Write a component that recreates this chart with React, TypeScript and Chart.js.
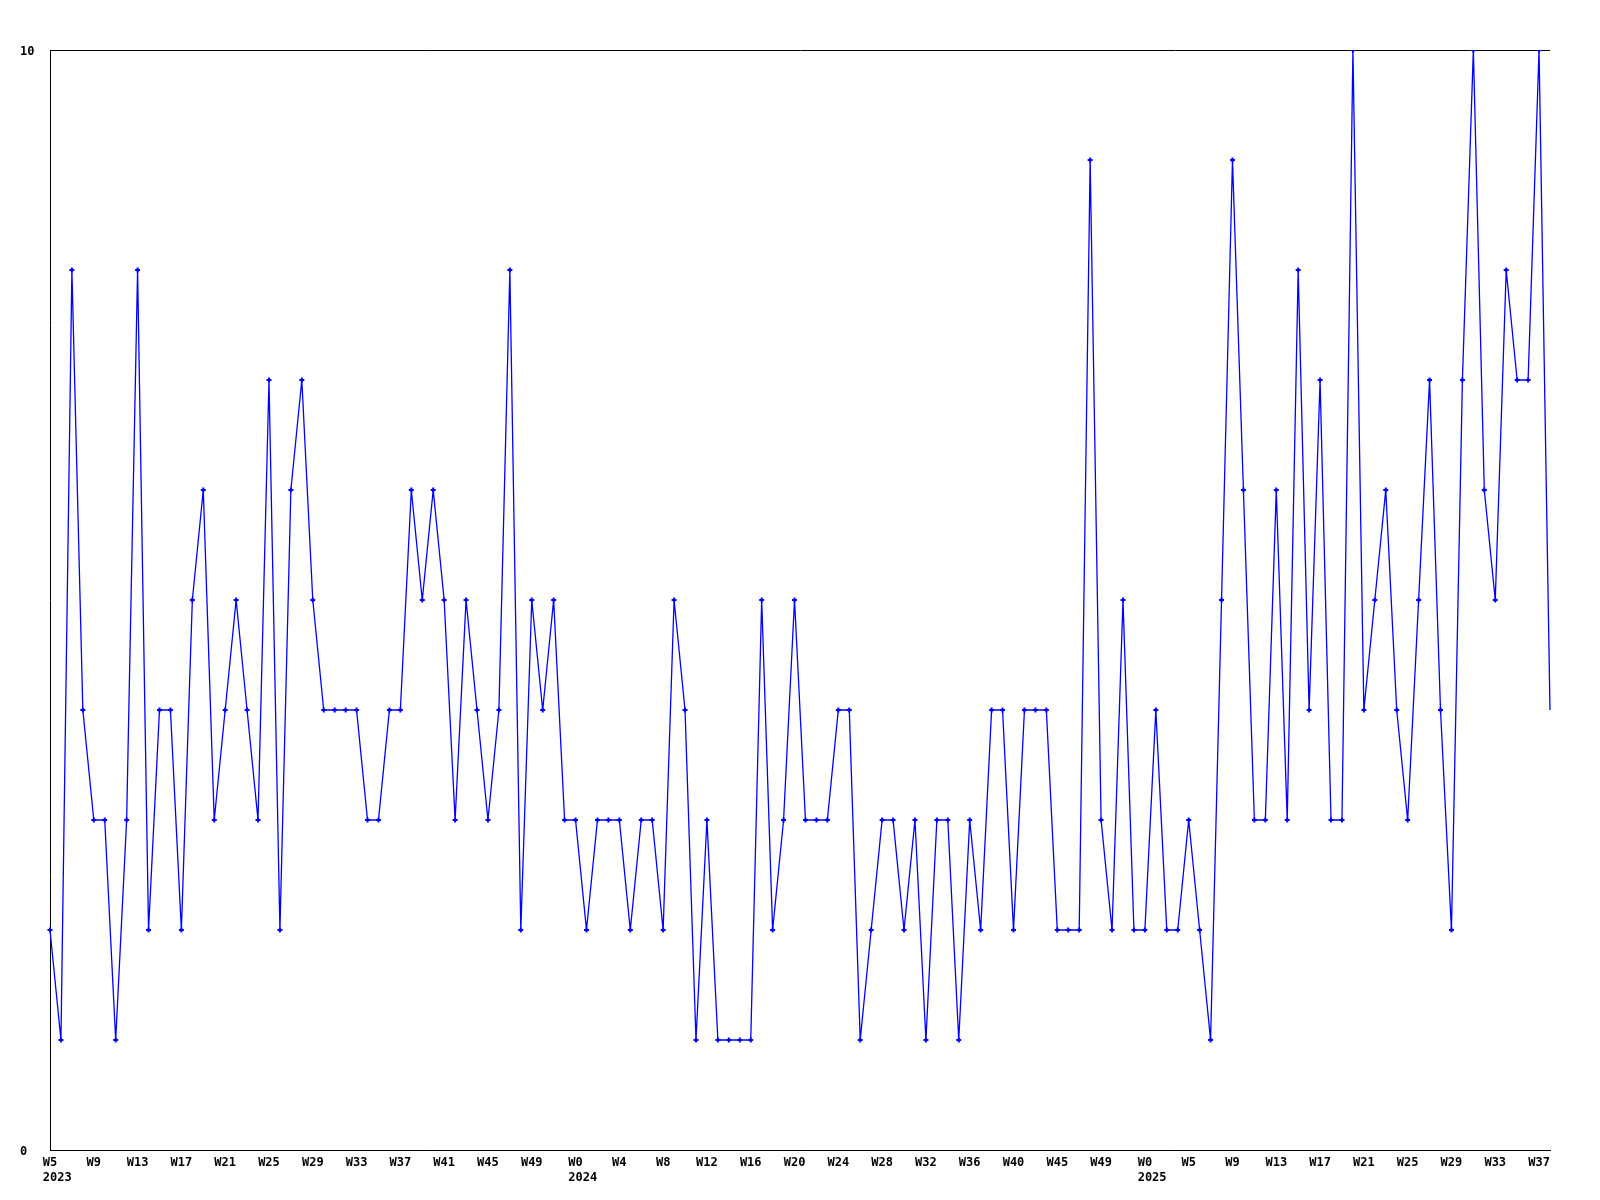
import { useEffect, useRef } from "react";
import { Chart, registerables } from "chart.js";

Chart.register(...registerables);

// Week categories, per year
const weeks2023 = [
  "W5", "W6", "W7", "W8", "W9", "W10", "W11", "W12", "W13", "W14", "W15", "W16",
  "W17", "W18", "W19", "W20", "W21", "W22", "W23", "W24", "W25", "W26", "W27", "W28",
  "W29", "W30", "W31", "W32", "W33", "W34", "W35", "W36", "W37", "W38", "W39", "W40",
  "W41", "W42", "W43", "W44", "W45", "W46", "W47", "W48", "W49", "W50", "W51", "W52",
];
const weeks2024 = [
  "W0", "W1", "W2", "W3", "W4", "W5", "W6", "W7", "W8", "W9", "W10", "W11",
  "W12", "W13", "W14", "W15", "W16", "W17", "W18", "W19", "W20", "W21", "W22", "W23",
  "W24", "W25", "W26", "W27", "W28", "W29", "W30", "W31", "W32", "W33", "W34", "W35",
  "W36", "W37", "W38", "W39", "W40", "W41", "W42", "W43", "W45", "W46", "W47", "W48",
  "W49", "W50", "W51", "W52",
];
const weeks2025 = [
  "W0", "W1", "W2", "W3", "W5", "W6", "W7", "W8", "W9", "W10", "W11", "W12",
  "W13", "W14", "W15", "W16", "W17", "W18", "W19", "W20", "W21", "W22", "W23", "W24",
  "W25", "W26", "W27", "W28", "W29", "W30", "W31", "W32", "W33", "W34", "W35", "W36",
  "W37", "W38",
];
const yearNames = ["2023", "2024", "2025"];

// Series values (one per week)
const values = [
  2, 1, 8, 4, 3, 3, 1, 3, 8, 2, 4, 4, 2, 5, 6, 3, 4, 5, 4, 3, 7, 2, 6, 7, 5, 4, 4, 4,
  4, 3, 3, 4, 4, 6, 5, 6, 5, 3, 5, 4, 3, 4, 8, 2, 5, 4, 5, 3,
  3, 2, 3, 3, 3, 2, 3, 3, 2, 5, 4, 1, 3, 1, 1, 1, 1, 5, 2, 3, 5, 3, 3, 3, 4, 4,
  1, 2, 3, 3, 2, 3, 1, 3, 3, 1, 3, 2, 4, 4, 2, 4, 4, 4, 2, 2, 2, 9, 3, 2, 5, 2,
  2, 4, 2, 2, 3, 2, 1, 5, 9, 6, 3, 3, 6, 3, 8, 4, 7, 3, 3, 10, 4, 5, 6, 4, 3, 5,
  7, 4, 2, 7, 10, 6, 5, 8, 7, 7, 10, 4,
];

// Y axis tick values
const yTicks = [0, 10];
const labelEvery = 4;

const FONT_FAMILY = "'DejaVu Sans Mono', 'Liberation Mono', monospace";

export default function App() {
  const ref = useRef<HTMLCanvasElement>(null);

  useEffect(() => {
    const labels = [...weeks2023, ...weeks2024, ...weeks2025];
    const yearStarts: Record<number, string> = {
      0: yearNames[0],
      [weeks2023.length]: yearNames[1],
      [weeks2023.length + weeks2024.length]: yearNames[2],
    };
    const tickFont = { family: FONT_FAMILY, size: 12, weight: "bold" as const };
    const tickPadding = 6;

    const yearPlugin = {
      id: "yearLabels",
      afterDraw(chart: any) {
        const xs = chart.scales.x;
        const ctx = chart.ctx;
        ctx.save();
        ctx.font = `bold 12px ${FONT_FAMILY}`;
        ctx.fillStyle = "#000";
        ctx.textBaseline = "top";
        ctx.textAlign = "left";
        Object.keys(yearStarts).forEach((k) => {
          const i = Number(k);
          const px = xs.getPixelForValue(i);
          const w = ctx.measureText(labels[i]).width;
          ctx.fillText(yearStarts[i], px - w / 2, xs.top + tickPadding + 16);
        });
        ctx.restore();
      },
    };

    const chart = new Chart(ref.current!, {
      type: "line",
      data: {
        labels,
        datasets: [
          {
            data: values,
            borderColor: "#0000ff",
            backgroundColor: "#0000ff",
            borderWidth: 1.3,
            tension: 0,
            fill: false,
            pointStyle: "cross",
            pointRadius: (c: any) => (c.dataIndex === values.length - 1 ? 0 : 2.5),
            pointBorderColor: "#0000ff",
            pointBorderWidth: 2,
            pointHoverRadius: 2.5,
          },
        ],
      },
      options: {
        responsive: false,
        animation: false,
        devicePixelRatio: 1,
        layout: { padding: { left: 20, top: 50, right: 50, bottom: 0 } },
        plugins: {
          legend: { display: false },
          tooltip: { enabled: false },
        },
        scales: {
          x: {
            type: "category",
            offset: false,
            grid: { display: false, drawTicks: false },
            border: { display: true, color: "#000", width: 1 },
            ticks: {
              autoSkip: false,
              maxRotation: 0,
              minRotation: 0,
              padding: tickPadding,
              color: "#000",
              font: tickFont,
              callback: (_v: any, idx: number) => (idx % labelEvery === 0 ? labels[idx] : ""),
            },
            afterFit: (s: any) => {
              s.height = 50;
            },
          },
          y: {
            min: yTicks[0],
            max: yTicks[yTicks.length - 1],
            grid: { display: true, color: "#000", lineWidth: 1, drawTicks: false },
            border: { display: true, color: "#000", width: 1 },
            ticks: {
              stepSize: yTicks[1] - yTicks[0],
              crossAlign: "far",
              color: "#000",
              font: tickFont,
              padding: 0,
              labelOffset: 2,
            },
            afterFit: (s: any) => {
              s.width = 30;
            },
          },
        },
      },
      plugins: [yearPlugin],
    } as any);

    return () => chart.destroy();
  }, []);

  return (
    <div
      style={{
        position: "absolute",
        left: 0,
        top: 0,
        width: 1600,
        height: 1200,
        background: "#fff",
      }}
    >
      <canvas ref={ref} width={1600} height={1200} style={{ display: "block" }} />
    </div>
  );
}
